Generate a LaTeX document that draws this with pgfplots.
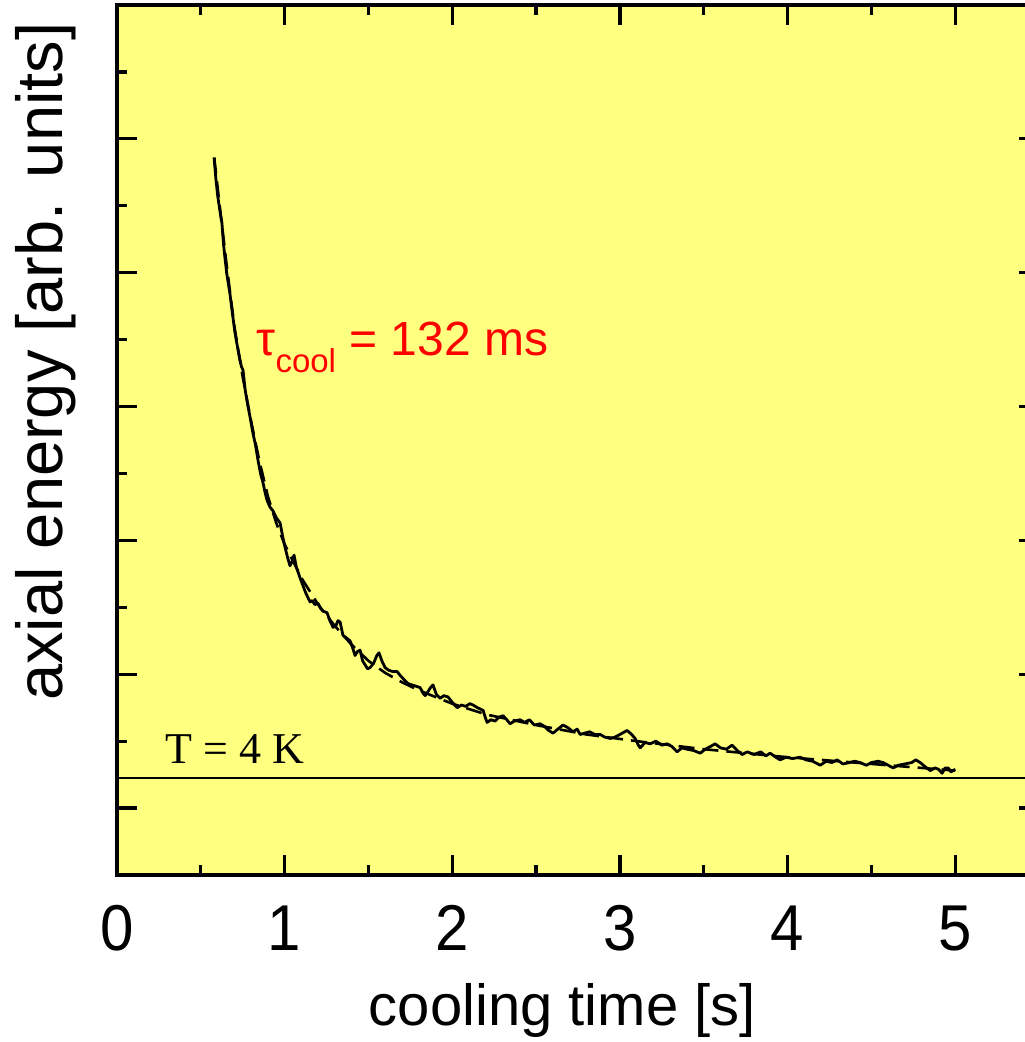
\documentclass[border=0pt]{standalone}
\usepackage{pgfplots}
\pgfplotsset{compat=1.18}
\usepackage{fontspec}
\setmainfont{Liberation Sans}
\newfontfamily\timesfont{Liberation Serif}
\usetikzlibrary{calc}

\definecolor{plotbg}{RGB}{255,255,128}

% measured data (solid) and fitted decay (dashed)
\pgfplotstableread{
t E
0.579 4.86
0.590 4.70
0.600 4.58
0.613 4.47
0.626 4.37
0.635 4.22
0.644 4.11
0.655 3.99
0.664 3.92
0.674 3.84
0.688 3.70
0.704 3.55
0.718 3.45
0.730 3.37
0.742 3.30
0.752 3.27
0.765 3.12
0.780 3.01
0.794 2.92
0.811 2.80
0.825 2.72
0.841 2.60
0.856 2.50
0.871 2.43
0.883 2.36
0.895 2.30
0.912 2.25
0.931 2.22
0.950 2.17
0.973 2.13
0.988 2.03
1.002 1.95
1.018 1.87
1.032 1.81
1.044 1.84
1.056 1.89
1.070 1.80
1.092 1.72
1.110 1.66
1.125 1.61
1.140 1.57
1.152 1.54
1.165 1.55
1.180 1.52
1.199 1.53
1.215 1.49
1.230 1.47
1.253 1.46
1.270 1.40
1.289 1.35
1.305 1.36
1.318 1.40
1.331 1.39
1.348 1.29
1.370 1.27
1.390 1.25
1.405 1.20
1.420 1.14
1.435 1.17
1.450 1.18
1.465 1.10
1.480 1.07
1.495 1.04
1.510 1.05
1.530 1.08
1.550 1.14
1.563 1.16
1.580 1.10
1.599 1.05
1.620 1.03
1.645 1.02
1.671 1.02
1.690 0.99
1.712 0.96
1.736 0.93
1.760 0.92
1.785 0.91
1.808 0.90
1.825 0.86
1.838 0.84
1.855 0.87
1.870 0.90
1.885 0.92
1.905 0.85
1.927 0.82
1.950 0.84
1.975 0.83
2.000 0.79
2.029 0.75
2.055 0.77
2.080 0.76
2.105 0.78
2.124 0.77
2.150 0.75
2.184 0.73
2.196 0.68
2.208 0.64
2.230 0.66
2.255 0.65
2.280 0.68
2.303 0.69
2.325 0.66
2.345 0.63
2.370 0.65
2.405 0.66
2.430 0.64
2.460 0.66
2.490 0.62
2.524 0.63
2.550 0.61
2.575 0.58
2.601 0.56
2.630 0.59
2.660 0.62
2.691 0.60
2.720 0.57
2.745 0.59
2.763 0.55
2.790 0.56
2.820 0.57
2.850 0.55
2.882 0.55
2.910 0.53
2.942 0.52
2.970 0.53
3.000 0.55
3.043 0.58
3.070 0.55
3.091 0.52
3.110 0.47
3.121 0.45
3.150 0.49
3.180 0.48
3.215 0.50
3.250 0.47
3.282 0.48
3.310 0.46
3.341 0.42
3.370 0.45
3.400 0.44
3.440 0.43
3.479 0.41
3.510 0.44
3.540 0.46
3.568 0.48
3.600 0.45
3.635 0.44
3.669 0.47
3.700 0.43
3.729 0.40
3.760 0.42
3.800 0.40
3.840 0.42
3.870 0.39
3.896 0.41
3.930 0.38
3.956 0.36
3.990 0.38
4.030 0.37
4.075 0.38
4.110 0.36
4.150 0.35
4.195 0.32
4.230 0.35
4.265 0.34
4.296 0.36
4.330 0.33
4.370 0.34
4.400 0.35
4.433 0.34
4.470 0.32
4.500 0.34
4.540 0.35
4.570 0.34
4.600 0.32
4.630 0.30
4.660 0.32
4.700 0.33
4.740 0.34
4.765 0.36
4.791 0.34
4.820 0.31
4.851 0.28
4.880 0.30
4.900 0.29
4.922 0.26
4.940 0.30
4.958 0.30
4.975 0.27
5.000 0.29
}\measured

\pgfplotstableread{
t E
0.58 4.86
0.62 4.42
0.65 4.10
0.70 3.60
0.75 3.22
0.80 2.89
0.85 2.59
0.90 2.33
0.95 2.13
1.00 1.97
1.10 1.72
1.20 1.52
1.30 1.36
1.40 1.22
1.50 1.10
1.60 1.01
1.70 0.94
1.80 0.88
2.00 0.78
2.20 0.70
2.50 0.62
2.80 0.55
3.10 0.50
3.50 0.44
4.00 0.38
4.50 0.33
5.00 0.28
}\fit

\begin{document}
\begin{tikzpicture}
\begin{axis}[
    scale only axis,
    width=461pt, height=435pt,
    xmin=0, xmax=5.5,
    ymin=-0.5, ymax=6,
    axis background/.style={fill=plotbg},
    axis line style={line width=2.2pt},
    xtick={0,1,2,3,4,5},
    ytick={0,1,2,3,4,5,6},
    yticklabels={},
    minor x tick num=1,
    minor y tick num=1,
    tick align=inside,
    major tick length=10pt,
    minor tick length=5pt,
    every tick/.style={black, line width=1.6pt},
    /pgf/number format/assume math mode=true,
    tick label style={font=\fontsize{30}{34}\selectfont},
    xticklabel style={anchor=base, yshift=-37.5pt, yscale=1.08},
    xlabel={cooling time [s]},
    xlabel style={font=\fontsize{29}{34}\selectfont, at={(rel axis cs:0.483,0)}, anchor=base, yshift=-75pt},
    ylabel={axial energy [arb. units]},
    ylabel style={font=\fontsize{32.5}{38}\selectfont, at={($(rel axis cs:0,0.59)+(-27pt,0)$)}, anchor=base},
    clip=false,
]
\addplot[black, line width=1.4pt, forget plot] coordinates {(0,0.224) (5.5,0.224)};
\addplot[black, line width=1.3pt, dashed, dash pattern=on 8pt off 4pt] table[x=t, y=E] {\fit};
\addplot[black, line width=1.4pt, line join=round] table[x=t, y=E] {\measured};
\node[anchor=base west, font=\timesfont\fontsize{22}{26}\selectfont, inner sep=0pt] at (axis cs:0.286,0.336) {T = 4 K};
\node[anchor=base west, text=red, font=\fontsize{24}{28}\selectfont, inner sep=0pt] at (axis cs:0.83,3.381)
  {τ\raisebox{-8.5pt}{\fontsize{16.5}{18}\selectfont cool} = 132 ms};
\coordinate (bl) at (rel axis cs:0,0);
\coordinate (tl) at (rel axis cs:0,1);
\end{axis}
\pgfresetboundingbox
\useasboundingbox ($(bl)+(-58.5pt,-83.5pt)$) rectangle ($(tl)+(453.5pt,2.5pt)$);
\end{tikzpicture}
\end{document}
